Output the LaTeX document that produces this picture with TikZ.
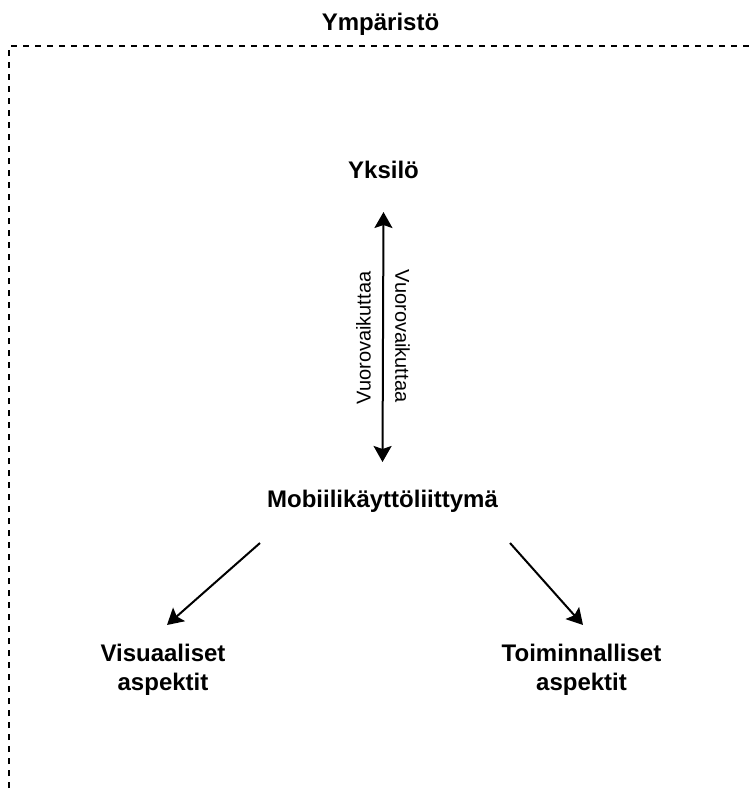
\documentclass[tikz,border=0pt]{standalone}
\usepackage{fontspec}
\setmainfont{Liberation Sans}
\usetikzlibrary{arrows.meta}
\tikzset{
  title/.style={inner sep=0pt, font=\fontsize{24}{29}\selectfont\bfseries, align=center},
  lbl/.style={inner sep=0pt, font=\fontsize{20}{24}\selectfont},
  arr/.style={line width=2pt, -{Stealth[length=16pt,width=18pt,inset=3pt]}},
  darr/.style={line width=2pt, {Stealth[length=16pt,width=18pt,inset=3pt]}-{Stealth[length=16pt,width=18pt,inset=3pt]}},
  envbox/.style={line width=2pt, dash pattern=on 6pt off 6pt}
}
\begin{document}
\begin{tikzpicture}[x=1pt,y=-1pt]
\useasboundingbox (0,0) rectangle (751,789);
% environment frame (only top and left edges visible)
\node[title, anchor=base] (env) at (380.5,31) {Ympäristö};
\coordinate (envbl) at (9,800);
\coordinate (envtl) at (9,46);
\coordinate (envtr) at (760,46);
\draw[envbox] (envbl) -- (envtl) -- (envtr);
% nodes
\node[title, anchor=base] (yk) at (383.5,178) {Yksilö};
\node[title, anchor=base] (mo) at (382.5,507) {Mobiilikäyttöliittymä};
\node[title, anchor=north] (vi) at (163,643.5) {Visuaaliset\\aspektit};
\node[title, anchor=north] (to) at (581.5,643.5) {Toiminnalliset\\aspektit};
% interaction arrow
\draw[darr] ([shift={(0pt,-34pt)}]yk.base) -- ([shift={(0pt,45pt)}]mo.base)
  node[lbl, midway, rotate=90, xshift=-1pt, yshift=19.5pt] (l1) {Vuorovaikuttaa}
  node[lbl, midway, rotate=-90, xshift=-1pt, yshift=19.5pt] (l2) {Vuorovaikuttaa};
% aspect arrows
\draw[arr] ([shift={(-122.5pt,-36pt)}]mo.base) -- ([shift={(4pt,18.5pt)}]vi.north);
\draw[arr] ([shift={(127.5pt,-36pt)}]mo.base) -- ([shift={(1.5pt,18.5pt)}]to.north);
\end{tikzpicture}
\end{document}
